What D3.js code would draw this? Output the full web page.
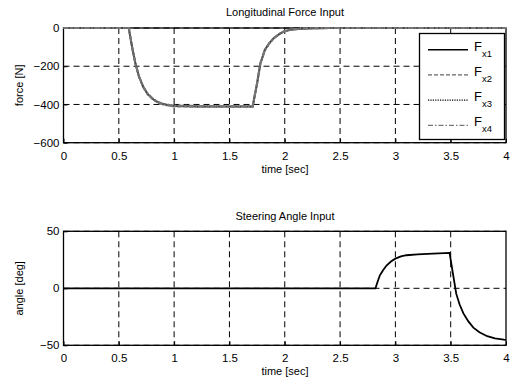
<!DOCTYPE html>
<html>
<head>
<meta charset="utf-8">
<script src="https://cdn.jsdelivr.net/npm/d3@7"></script>
<style>
  body { margin: 0; background: #fff; }
  text { font-family: "Liberation Sans", Arial, sans-serif; fill: #000; }
</style>
</head>
<body>
<div class="chart"></div>
<script>
// values
const forceTime = [0, 0.59, 0.62, 0.65, 0.68, 0.72, 0.76, 0.81, 0.86, 0.90, 0.95, 1.0, 1.2, 1.4, 1.6, 1.71,
  1.73, 1.75, 1.78, 1.82, 1.86, 1.90, 1.95, 1.99, 2.04, 2.08, 2.15, 2.2, 2.3, 2.4, 3.0, 4.0];
const fx1 = [0, 0, -100, -185, -250, -307, -345, -373, -390, -398, -404, -408, -410, -410, -410, -410,
  -350, -290, -185, -115, -80, -54, -32, -19, -11, -7, -4, -2, -1, 0, 0, 0];
const fx2 = fx1.map(v => v * 1.005);
const fx3 = fx1.slice();
const fx4 = fx1.map(v => v * 0.995);

const steerTime = [0, 2.82, 2.84, 2.86, 2.89, 2.92, 2.96, 3.0, 3.05, 3.10, 3.2, 3.34, 3.49,
  3.52, 3.55, 3.58, 3.615, 3.66, 3.705, 3.76, 3.83, 3.9, 3.98, 4.0];
const steer = [0, 0, 6, 11.4, 16, 20, 23.5, 26, 28, 29, 29.8, 30.4, 31,
  13, -4.7, -14, -22, -29, -34.5, -38.5, -42, -44, -45, -45.2];

const xTicks = [0, 0.5, 1, 1.5, 2, 2.5, 3, 3.5, 4];
const forceTicks = [0, -200, -400, -600];
const angleTicks = [50, 0, -50];
const legendNames = ['1', '2', '3', '4'];

const svg = d3.select('.chart').append('svg')
  .attr('width', 514).attr('height', 384);

const x = d3.scaleLinear().domain([0, 4]).range([63.5, 506]);
const yF = d3.scaleLinear().domain([-600, 0]).range([142.7, 28]);
const yA = d3.scaleLinear().domain([-50, 50]).range([345.3, 231.3]);

function panel(y, yTicks, title, ylabel, titleY) {
  const g = svg.append('g');
  const [y0, y1] = y.range();
  // grid
  g.selectAll('.vg').data(xTicks.slice(1, -1)).enter().append('line')
    .attr('x1', d => x(d)).attr('x2', d => x(d)).attr('y1', y1).attr('y2', y0)
    .attr('stroke', '#000').attr('stroke-width', 1).attr('stroke-dasharray', '6,4');
  g.selectAll('.hg').data(yTicks).enter().append('line')
    .attr('x1', x(0)).attr('x2', x(4)).attr('y1', d => y(d)).attr('y2', d => y(d))
    .attr('stroke', '#000').attr('stroke-width', 1).attr('stroke-dasharray', '6,4');
  // axes
  g.append('g').attr('transform', `translate(0,${y0})`)
    .call(d3.axisBottom(x).tickValues(xTicks).tickSize(-4).tickPadding(9).tickFormat(d3.format('')))
    .call(a => a.select('.domain').remove());
  g.append('g').attr('transform', `translate(${x(0)},0)`)
    .call(d3.axisLeft(y).tickValues(yTicks).tickSize(-4).tickPadding(4).tickFormat(d3.format('')))
    .call(a => a.select('.domain').remove());
  g.selectAll('.tick text').attr('font-size', 11.5).attr('font-family', '"Liberation Sans", Arial, sans-serif');
  g.append('rect').attr('x', x(0)).attr('y', y1).attr('width', x(4) - x(0)).attr('height', y0 - y1)
    .attr('fill', 'none').attr('stroke', '#000').attr('stroke-width', 1.3);
  g.append('text').attr('x', 285).attr('y', titleY).attr('text-anchor', 'middle')
    .attr('font-size', 11).text(title);
  g.append('text').attr('x', 285).attr('y', y0 + 30).attr('text-anchor', 'middle')
    .attr('font-size', 11).text('time [sec]');
  g.append('text').attr('transform', `translate(23,${(y0 + y1) / 2}) rotate(-90)`)
    .attr('text-anchor', 'middle').attr('font-size', 11).text(ylabel);
  return g;
}

const forcePanel = panel(yF, forceTicks, 'Longitudinal Force Input', 'force [N]', 16);
const anglePanel = panel(yA, angleTicks, 'Steering Angle Input', 'angle [deg]', 220);

const styles = [
  { data: fx1, color: '#444', width: 2, dash: null },
  { data: fx2, color: '#777', width: 2, dash: '4,2' },
  { data: fx3, color: '#444', width: 1.5, dash: '1.2,1.2' },
  { data: fx4, color: '#777', width: 2.2, dash: '5,2,1.5,2' }
];

const lineF = d3.line().x((d, i) => x(forceTime[i])).y(d => yF(d));
styles.forEach(s => {
  forcePanel.append('path').datum(s.data).attr('d', lineF)
    .attr('fill', 'none').attr('stroke', s.color).attr('stroke-width', s.width)
    .attr('stroke-dasharray', s.dash);
});

const lineA = d3.line().x((d, i) => x(steerTime[i])).y(d => yA(d));
anglePanel.append('path').datum(steer).attr('d', lineA)
  .attr('fill', 'none').attr('stroke', '#000').attr('stroke-width', 1.8);

// legend
const lg = svg.append('g');
lg.append('rect').attr('x', 419.5).attr('y', 33.5).attr('width', 85).attr('height', 106)
  .attr('fill', '#fff').attr('stroke', '#000').attr('stroke-width', 1.3);
const legendStyles = [
  { color: '#000', width: 1.6, dash: null },
  { color: '#666', width: 1.2, dash: '4,2' },
  { color: '#000', width: 1.3, dash: '1.2,1.2' },
  { color: '#777', width: 1.2, dash: '5,2,1.5,2' }
];
legendNames.forEach((n, i) => {
  const ry = 49.7 + i * 25.2;
  const s = legendStyles[i];
  lg.append('line').attr('x1', 428).attr('x2', 468).attr('y1', ry).attr('y2', ry)
    .attr('stroke', s.color).attr('stroke-width', s.width).attr('stroke-dasharray', s.dash);
  const t = lg.append('text').attr('x', 474).attr('y', ry + 1).attr('font-size', 13);
  t.append('tspan').text('F');
  t.append('tspan').attr('dy', 6).attr('font-size', 9.5).text('x' + n);
});
</script>
</body>
</html>
